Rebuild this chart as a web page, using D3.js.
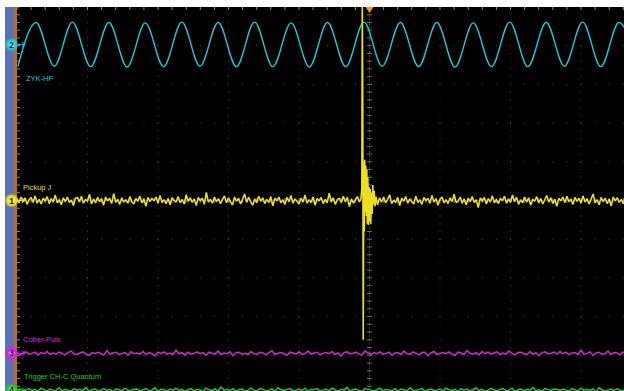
<!DOCTYPE html>
<html>
<head>
<meta charset="utf-8">
<script src="https://cdn.jsdelivr.net/npm/d3@7"></script>
<style>
  html, body { margin: 0; padding: 0; background: #fff; }
  svg { display: block; font-family: "Liberation Sans", Arial, sans-serif; }
</style>
</head>
<body>
<figure id="scope" style="margin:0"></figure>
<script>
// screen is 10 x 10 divisions, time and volts both in divisions
const channels = [
  { id: "2", name: "ZYK-HF", color: "#22c6d4", offset: 4.03, width: 1.4 },
  { id: "1", name: "Pickup J", color: "#ecdf1c", offset: 0, width: 1.6 },
  { id: "3", name: "Cober-Puls", color: "#dc22dc", offset: -3.95, width: 1.5 },
  { id: "4", name: "Trigger CH-C Quantum", color: "#22cc22", offset: -4.9, width: 1.5 }
];

// ch2 sine, read at each peak and trough
const cyanT = [-4.989, -4.730, -4.472, -4.214, -3.955, -3.696, -3.438, -3.180, -2.921, -2.662,
  -2.404, -2.146, -1.888, -1.630, -1.371, -1.112, -0.854, -0.596, -0.337, -0.078,
  0.180, 0.438, 0.697, 0.955, 1.213, 1.472, 1.730, 1.989, 2.247, 2.506,
  2.764, 3.023, 3.281, 3.539, 3.798];
const cyanV = [-0.57, 0.57, -0.56, 0.58, -0.57, 0.57, -0.58, 0.56, -0.57, 0.58,
  -0.56, 0.57, -0.57, 0.58, -0.57, 0.56, -0.58, 0.57, -0.57, 0.58,
  -0.56, 0.57, -0.57, 0.57, -0.58, 0.56, -0.57, 0.58, -0.57, 0.57,
  -0.56, 0.58, -0.57, 0.57, -0.57];

// ch1 noise, hundredths of a division, one sample per 1/35 div
const yellowDt = 1 / 35;
const yellowBase = [
  4,-6,9,-3,7,-10,2,8,-5,12,-7,3,-9,6,-2,10,-8,5,-4,14,
  -6,2,-11,7,-3,9,-5,1,-13,6,8,-4,11,-7,3,-2,16,-9,4,-6,
  8,-3,5,-12,9,-1,6,-8,18,-5,3,-10,7,-4,2,-7,10,-3,-9,5,
  -2,11,-6,4,-15,8,-3,6,-1,9,-7,13,-5,2,-8,5,-11,7,0,-4,
  10,-6,3,-9,15,-2,7,-5,4,-13,8,-1,6,-10,21,-4,3,-7,9,-3,
  5,-8,2,12,-6,7,-4,-11,9,-2,6,-9,3,17,-5,8,-3,-12,4,-6,
  11,-2,7,-8,3,-5,10,-14,6,-1,9,-6,2,-10,8,-3,13,-7,4,-2,
  -9,6,-4,14,-7,2,-5,9,-12,5,-1,8,-8,3,-6,19,-4,7,-10,2,
  6,-5,11,-3,8,-16,4,-7,2,10,-4,6,-9,3,-2,12,-8,5,-3,-11,
  7,-4,9,-6,3,15,-8,1,-5,8,-13,6,-2,10,-7,4,-3,-9,11,-5,
  2,-10,8,-1,6,-7,13,-4,5,-12,3,9,-6,2,-8,7,-3,16,-5,-2,
  9,-7,4,-11,6,-3,10,-5,2,-18,7,-2,8,-9,5,-4,12,-6,3,-8,
  6,-1,11,-7,4,-5,14,-3,8,-10,2,-6,9,-4,7,-12,3,-2,10,-6,
  5,-9,2,13,-4,7,-8,3,-15,6,-1,9,-5,11,-3,4,-10,8,-2,6,
  -7,12,-4,5,-9,3,17,-6,2,-11,8,-3,6,-8,4,-14,9,-1,7,-5,
  3,-8,10,-2,6,-12,4,9,-5,2,-7,11,-4,8,-9,5,-3,13,-6,2
];
// ch1 burst near the trigger, in divisions
const burstT = [-0.121, -0.109, -0.102, -0.095, -0.089, -0.081, -0.074, -0.067, -0.060, -0.053,
  -0.045, -0.038, -0.031, -0.024, -0.016, -0.007, 0.001, 0.010, 0.018, 0.028,
  0.038, 0.047, 0.057, 0.067, 0.078, 0.092];
const burstV = [0.05, 0.3, 5.0, 2.4, -3.6, 1.0, -0.8, 1.05, -0.3, 0.9,
  -0.4, 0.8, -0.6, 0.6, -0.63, 0.35, -0.55, 0.3, -0.6, 0.2,
  -0.35, 0.4, -0.1, 0.25, -0.15, 0.1];

// ch3 / ch4 noise, hundredths of a division, one sample per 1/23.5 div
const slowDt = 1 / 23.5;
const magentaV = [
  2,-3,1,4,-2,0,3,-4,2,-1,5,-3,1,-2,3,0,-4,2,6,-1,
  -3,1,4,-2,-5,2,0,3,-1,-4,7,-2,1,3,-3,0,2,-5,4,-1,
  1,-2,5,-3,2,-1,-6,3,0,4,-2,1,-3,8,-1,2,-4,3,-2,0,
  4,-1,2,-5,3,0,-2,6,-3,1,-1,4,-6,2,3,-2,0,-3,5,-1,
  -2,3,1,-4,2,7,-3,0,2,-1,-5,3,1,-2,4,-3,0,6,-2,1,
  3,-4,0,2,-1,5,-3,1,-7,2,4,-1,0,3,-2,-4,6,1,-3,2,
  -1,4,-2,0,3,-5,1,2,-3,6,-1,-2,4,0,-4,2,3,-6,1,5,
  -3,0,2,-1,4,-2,-5,3,1,-3,7,0,-2,2,-4,5,-1,3,-2,1,
  4,-3,1,-2,6,0,-4,2,3,-1,-3,5,-2,1,-6,2,4,-1,0,3,
  -2,5,-1,3,-4,1,2,-3,8,-2,0,4,-5,1,3,-2,-1,6,-3,2,
  1,-4,3,0,-2,5,-3,2,-1,4,-6,1,3,-2,0,5,-4,2,-1,3
];
const greenV = [
  1,3,-2,0,4,-1,2,-3,5,1,-2,3,0,-1,6,-2,2,0,-3,4,
  0,2,-1,7,-3,1,3,-2,0,4,-1,2,-4,3,1,-2,5,0,-1,2,
  3,-2,1,4,-1,0,6,-3,2,1,-2,3,0,5,-1,2,-3,1,4,-2,
  2,0,-3,5,1,-1,3,-2,8,0,2,-1,4,-3,1,3,-2,0,5,-1,
  -1,4,2,-2,0,3,-3,6,1,-1,2,4,-2,0,3,-1,5,-3,2,1,
  4,-1,0,3,-2,5,1,-3,2,0,7,-2,1,3,-1,-3,4,2,0,-2,
  1,5,-2,2,0,-1,4,-3,3,1,-2,6,0,-1,2,4,-3,1,3,-1,
  0,3,-2,5,1,-1,2,-4,4,0,3,-2,1,6,-1,2,-3,0,4,1,
  -2,2,4,-1,0,5,-3,1,3,-2,2,0,7,-1,1,-3,4,2,-1,3,
  2,-1,3,0,-3,4,1,-2,5,0,2,-1,3,-4,6,1,-2,0,3,-1,
  4,0,-2,3,1,-1,5,-3,2,0,-1,4,2,-2,3,1,-4,5,0,2
];

const width = 624;
const height = 391;
const plotLeft = 17, plotTop = 7, div = 70.5, vdiv = 38.7;

const svg = d3.select("figure#scope")
  .append("svg")
  .attr("width", width)
  .attr("height", height);

const x = d3.scaleLinear().domain([-5, 5]).range([plotLeft, plotLeft + 10 * div]);
const y = d3.scaleLinear().domain([-5, 5]).range([plotTop + 10 * vdiv, plotTop]);

// side strips
svg.append("rect").attr("x", 5).attr("y", plotTop).attr("width", 9).attr("height", height - plotTop).attr("fill", "#5d6fb6");
svg.append("rect").attr("x", 14).attr("y", plotTop).attr("width", 3).attr("height", height - plotTop).attr("fill", "#b96e1e");
svg.append("rect").attr("x", plotLeft).attr("y", plotTop).attr("width", width - plotLeft).attr("height", height - plotTop).attr("fill", "#000");

svg.append("clipPath").attr("id", "plot")
  .append("rect").attr("x", plotLeft).attr("y", plotTop).attr("width", width - plotLeft).attr("height", height - plotTop);

const grid = svg.append("g").attr("clip-path", "url(#plot)");
const minor = d3.range(-25, 26).map(d => d / 5);

// dotted graticule
d3.range(-4, 5).filter(d => d !== 0).forEach(g => {
  grid.selectAll(null).data(minor).enter().append("rect")
    .attr("x", x(g) - 0.5).attr("y", d => y(d) - 0.5)
    .attr("width", 1).attr("height", 1).attr("fill", "#4a4a4a");
  grid.selectAll(null).data(minor).enter().append("rect")
    .attr("x", d => x(d) - 0.5).attr("y", y(g) - 0.5)
    .attr("width", 1).attr("height", 1).attr("fill", "#4a4a4a");
});

// centre cross with ticks
grid.append("line").attr("x1", x(0)).attr("x2", x(0)).attr("y1", plotTop).attr("y2", height)
  .attr("stroke", "#3c3c3c").attr("stroke-dasharray", "2,2");
grid.append("line").attr("x1", plotLeft).attr("x2", width).attr("y1", y(0)).attr("y2", y(0))
  .attr("stroke", "#3c3c3c").attr("stroke-dasharray", "2,2");
grid.selectAll(null).data(minor).enter().append("line")
  .attr("x1", x(0) - 2.5).attr("x2", x(0) + 2.5).attr("y1", d => y(d)).attr("y2", d => y(d))
  .attr("stroke", "#6e6e6e");
grid.selectAll(null).data(minor).enter().append("line")
  .attr("y1", y(0) - 2.5).attr("y2", y(0) + 2.5).attr("x1", d => x(d)).attr("x2", d => x(d))
  .attr("stroke", "#6e6e6e");

// edge ticks
grid.selectAll(null).data(minor).enter().append("line")
  .attr("x1", d => x(d)).attr("x2", d => x(d)).attr("y1", plotTop).attr("y2", plotTop + 3)
  .attr("stroke", "#8a8a8a");
grid.selectAll(null).data(minor).enter().append("line")
  .attr("x1", plotLeft).attr("x2", plotLeft + 3).attr("y1", d => y(d)).attr("y2", d => y(d))
  .attr("stroke", "#8a8a8a");

// traces
const traces = svg.append("g").attr("clip-path", "url(#plot)");
const smooth = d3.line().x(d => x(d[0])).y(d => y(d[1])).curve(d3.curveMonotoneX);
const straight = d3.line().x(d => x(d[0])).y(d => y(d[1]));

const cyan = cyanT.map((t, i) => [t, channels[0].offset + cyanV[i]]);
traces.append("path").datum(cyan).attr("d", smooth)
  .attr("fill", "none").attr("stroke", channels[0].color).attr("stroke-width", channels[0].width);

const sampled = (vals, dt, offset) => vals.map((v, i) => [-5 + i * dt, offset + v / 100]);

let yellow = sampled(yellowBase, yellowDt, channels[1].offset)
  .filter(d => d[0] < burstT[0] || d[0] > burstT[burstT.length - 1]);
yellow = yellow.concat(burstT.map((t, i) => [t, channels[1].offset + burstV[i]]))
  .sort((a, b) => a[0] - b[0]);

traces.append("path").datum(yellow).attr("d", straight)
  .attr("fill", "none").attr("stroke", channels[1].color).attr("stroke-width", channels[1].width)
  .attr("stroke-linejoin", "bevel");
traces.append("path").datum(sampled(magentaV, slowDt, channels[2].offset)).attr("d", straight)
  .attr("fill", "none").attr("stroke", channels[2].color).attr("stroke-width", channels[2].width);
traces.append("path").datum(sampled(greenV, slowDt, channels[3].offset)).attr("d", straight)
  .attr("fill", "none").attr("stroke", channels[3].color).attr("stroke-width", channels[3].width);

// trigger position marker
svg.append("path")
  .attr("d", `M${x(0) - 4},${plotTop}L${x(0) + 4},${plotTop}L${x(0)},${plotTop + 6}Z`)
  .attr("fill", "#f29b2a");

// labels
const labelPos = [[26, 81], [23, 190], [23, 342], [24, 379]];
svg.selectAll("text.name").data(channels).enter().append("text")
  .attr("class", "name")
  .attr("x", (d, i) => labelPos[i][0]).attr("y", (d, i) => labelPos[i][1])
  .attr("fill", d => d.color).attr("font-size", 7.5)
  .text(d => d.name);

// channel markers on the left
const mk = svg.selectAll("g.mk").data(channels).enter().append("g")
  .attr("class", "mk")
  .attr("transform", d => `translate(11.7,${y(d.offset)})`);
mk.append("path").attr("d", "M6,0H13M10,-2.5L13.5,0L10,2.5")
  .attr("stroke", d => d.color).attr("fill", "none").attr("stroke-width", 1);
mk.append("circle").attr("r", 7).attr("fill", d => d.color).attr("opacity", 0.35);
mk.append("circle").attr("r", 5.6).attr("fill", d => d.color);
mk.append("circle").attr("r", 3.2).attr("fill", "#fff").attr("opacity", 0.35);
mk.append("text").attr("text-anchor", "middle").attr("y", 3)
  .attr("font-size", 8.5).attr("font-weight", "bold").attr("fill", "#1a2040")
  .text(d => d.id);
</script>
</body>
</html>
